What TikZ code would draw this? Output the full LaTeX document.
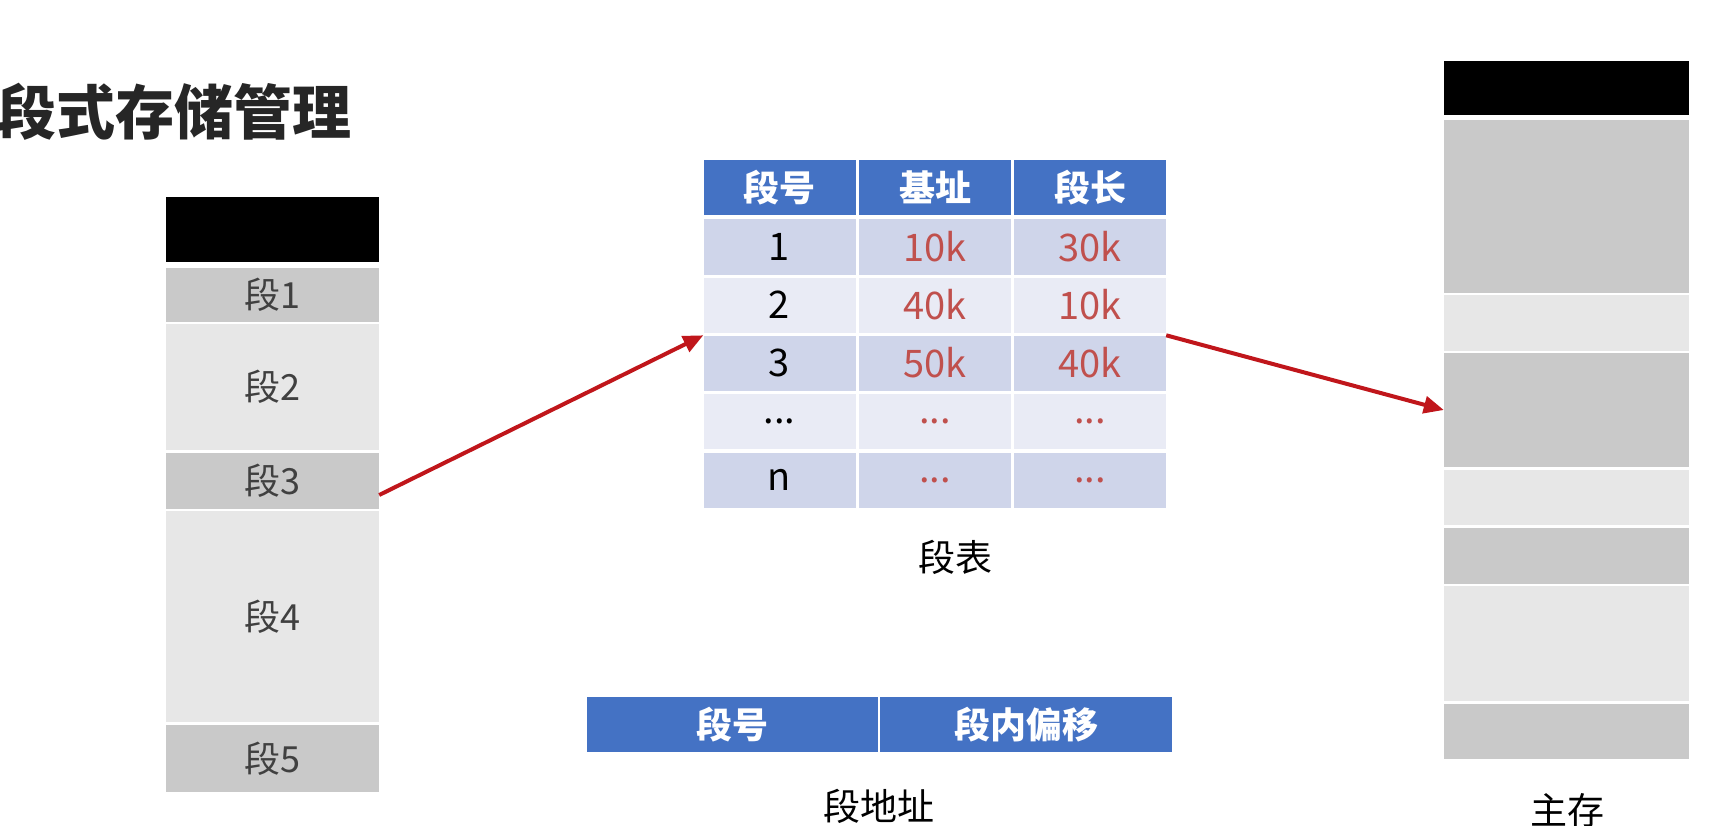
\documentclass[tikz,border=0pt]{standalone}
\usepackage{fontspec}
\setmainfont{Noto Sans CJK SC}
\usepackage{tikz}
\usetikzlibrary{arrows.meta}
\definecolor{segdark}{HTML}{C9C9C9}
\definecolor{seglight}{HTML}{E7E7E7}
\definecolor{headblue}{HTML}{4472C4}
\definecolor{rowdark}{HTML}{CFD5EA}
\definecolor{rowlight}{HTML}{E9EBF5}
\definecolor{numred}{HTML}{C0504D}
\definecolor{linkred}{HTML}{C0161B}
\definecolor{labelgray}{HTML}{404040}
\definecolor{titlegray}{HTML}{262626}
\tikzset{
	seg/.style={rectangle,inner sep=0pt,minimum width=213pt,text=labelgray,font=\fontsize{36pt}{40pt}\selectfont},
	mem/.style={rectangle,inner sep=0pt,minimum width=245pt},
	cell/.style={rectangle,inner sep=0pt,minimum width=152pt,minimum height=55pt,font=\fontsize{38pt}{40pt}\selectfont},
	head/.style={cell,fill=headblue,text=white,font=\bfseries\fontsize{36pt}{40pt}\selectfont},
	num/.style={text=numred},
	caption/.style={inner sep=0pt,font=\fontsize{37pt}{40pt}\selectfont},
	link/.style={draw=linkred,line width=4pt,-{Triangle[length=20pt,width=17pt]}}
}
\begin{document}
\begin{tikzpicture}[x=1pt,y=-1pt]
		\useasboundingbox (0,0) rectangle (1712,826);
		
		\node[anchor=west,inner sep=0pt,text=titlegray,font=\bfseries\fontsize{59pt}{60pt}\selectfont] (title)at(-3,112) {段式存储管理};
		
		\node[seg,fill=black,minimum height=65pt] (s0)at(272.5,229.5) {};
		\node[seg,fill=segdark,minimum height=54pt] (s1)at(272.5,295) {段1};
		\node[seg,fill=seglight,minimum height=126pt] (s2)at(272.5,387) {段2};
		\node[seg,fill=segdark,minimum height=56pt] (s3)at(272.5,481) {段3};
		\node[seg,fill=seglight,minimum height=211pt] (s4)at(272.5,616.5) {段4};
		\node[seg,fill=segdark,minimum height=67pt] (s5)at(272.5,758.5) {段5};
		
		\node[head] (ha)at(779.5,187.5) {段号};
		\node[head] (hb)at(935,187.5) {基址};
		\node[head] (hc)at(1090,187.5) {段长};
		\node[cell,fill=rowdark] (r1a)at(779.5,247) {1};
		\node[cell,fill=rowdark,num] (r1b)at(935,247) {10k};
		\node[cell,fill=rowdark,num] (r1c)at(1090,247) {30k};
		\node[cell,fill=rowlight] (r2a)at(779.5,305) {2};
		\node[cell,fill=rowlight,num] (r2b)at(935,305) {40k};
		\node[cell,fill=rowlight,num] (r2c)at(1090,305) {10k};
		\node[cell,fill=rowdark] (r3a)at(779.5,363) {3};
		\node[cell,fill=rowdark,num] (r3b)at(935,363) {50k};
		\node[cell,fill=rowdark,num] (r3c)at(1090,363) {40k};
		\node[cell,fill=rowlight] (r4a)at(779.5,421.5) {...};
		\node[cell,fill=rowlight,num] (r4b)at(935,421.5) {...};
		\node[cell,fill=rowlight,num] (r4c)at(1090,421.5) {...};
		\node[cell,fill=rowdark] (r5a)at(779.5,480) {n};
		\node[cell,fill=rowdark,num] (r5b)at(935,480) {...};
		\node[cell,fill=rowdark,num] (r5c)at(1090,480) {...};
		\node[caption] (tab)at(955,557) {段表};
		
		\node[head,minimum width=291pt] (ad1)at(732.5,724.5) {段号};
		\node[head,minimum width=292pt] (ad2)at(1026,724.5) {段内偏移};
		\node[caption] (addr)at(879,806) {段地址};
		
		\node[mem,fill=black,minimum height=54pt] (m0)at(1566.5,88) {};
		\node[mem,fill=segdark,minimum height=173pt] (m1)at(1566.5,206.5) {};
		\node[mem,fill=seglight,minimum height=56pt] (m2)at(1566.5,323) {};
		\node[mem,fill=segdark,minimum height=114pt] (m3)at(1566.5,410) {};
		\node[mem,fill=seglight,minimum height=55pt] (m4)at(1566.5,497.5) {};
		\node[mem,fill=segdark,minimum height=56pt] (m5)at(1566.5,556) {};
		\node[mem,fill=seglight,minimum height=115pt] (m6)at(1566.5,643.5) {};
		\node[mem,fill=segdark,minimum height=55pt] (m7)at(1566.5,731.5) {};
		\node[caption] (main)at(1567,810) {主存};
		
		\draw[link] ([yshift=-14pt]s3.east) -- (r3a.north west);
		\draw[link] (r3c.north east) -- (m3.west);
	\end{tikzpicture}
\end{document}
